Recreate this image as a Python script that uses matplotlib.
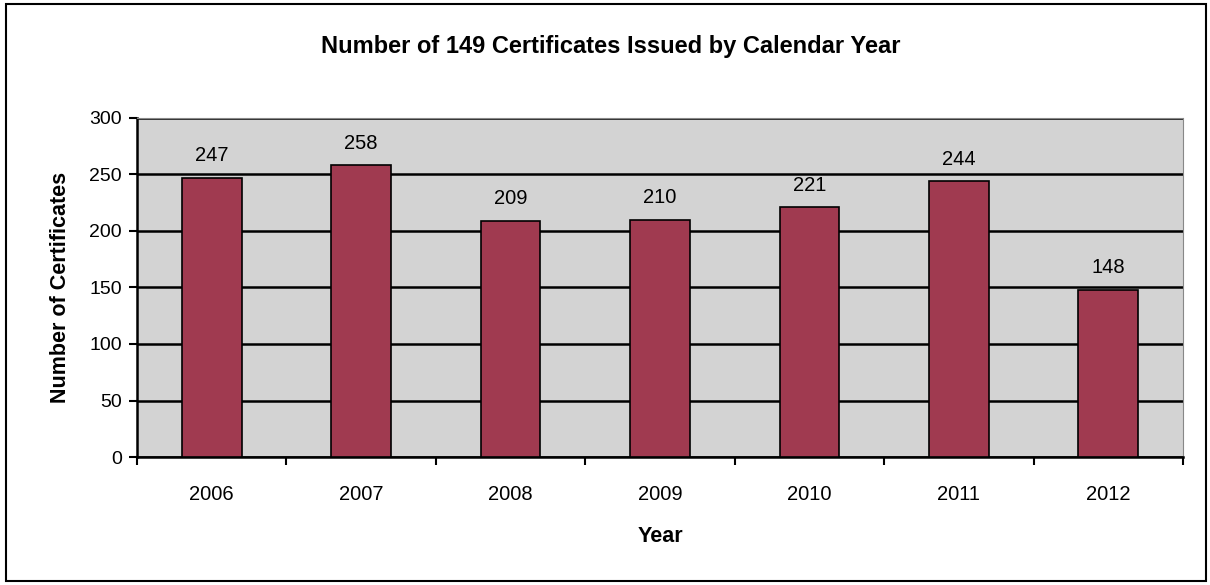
import matplotlib.pyplot as plt
from matplotlib.patches import Rectangle

years = ['2006', '2007', '2008', '2009', '2010', '2011', '2012']
certs = [247, 258, 209, 210, 221, 244, 148]
yticks = [0, 50, 100, 150, 200, 250, 300]

plt.rcParams['font.family'] = ['Liberation Sans', 'DejaVu Sans']

fig = plt.figure(figsize=(12.1, 5.85), dpi=100)
ax = fig.add_axes([0.1132, 0.2188, 0.8645, 0.5795])
ax.set_facecolor('#d3d3d3')

x = range(len(years))
bars = ax.bar(x, certs, width=0.4, color='#a03a50', edgecolor='black', linewidth=1.2, zorder=3)
for xi, v in zip(x, certs):
    ax.text(xi, v + 11, str(v), ha='center', va='bottom', fontsize=14.5, zorder=4)

ax.set_xlim(-0.5, len(years) - 0.5)
ax.set_ylim(0, 300)
ax.set_yticks(yticks)
ax.set_yticklabels([str(t) for t in yticks], fontsize=14)
ax.yaxis.grid(True, color='black', linewidth=1.8, zorder=1)
ax.set_axisbelow(True)

# category labels centered, ticks between categories
ax.set_xticks(list(x))
ax.set_xticklabels(years, fontsize=14.5)
ax.tick_params(axis='x', length=0, pad=20)
ax.set_xticks([i - 0.5 for i in range(len(years) + 1)], minor=True)
ax.tick_params(axis='x', which='minor', length=6, width=1.5, direction='out')
ax.tick_params(axis='y', length=6, width=1.5, direction='out', pad=5)

ax.spines['left'].set_linewidth(1.8)
ax.spines['bottom'].set_linewidth(1.8)
ax.spines['top'].set_color('#888888')
ax.spines['top'].set_linestyle((0, (2, 1)))
ax.spines['right'].set_color('#888888')

ax.set_ylabel('Number of Certificates', fontsize=15.5, fontweight='bold', labelpad=13)
ax.set_xlabel('Year', fontsize=15.5, fontweight='bold', labelpad=16)
fig.text(0.505, 0.92, 'Number of 149 Certificates Issued by Calendar Year',
         ha='center', va='center', fontsize=17, fontweight='bold')

# outer frame
fig.patches.append(Rectangle((6 / 1210, 4 / 585), 1200 / 1210, 577 / 585,
                             transform=fig.transFigure, fill=False,
                             edgecolor='black', linewidth=1.5))

fig.savefig('out.png', dpi=100)
